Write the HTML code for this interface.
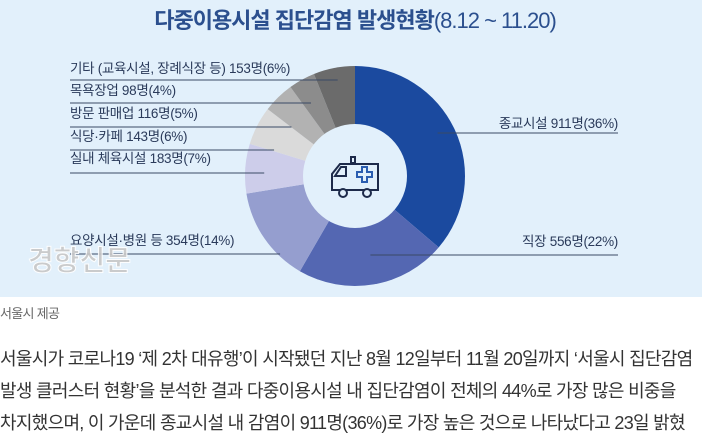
<!DOCTYPE html>
<html><head><meta charset="utf-8"><style>
body{margin:0;width:704px;height:447px;overflow:hidden;background:#fff;font-family:"Liberation Sans","Noto Sans CJK KR",sans-serif;}
#fig{position:absolute;left:0;top:0;width:702px;height:297px;background:#e2f0fb;}
.p{position:absolute;left:0;font-size:18px;color:#333;white-space:nowrap;letter-spacing:-0.7px}
</style></head><body>
<div id="fig">
<svg id="chart" width="702" height="297">
<text x="355" y="28" text-anchor="middle" font-size="22" font-weight="bold" fill="#2b4f8e" letter-spacing="-1">다중이용시설 집단감염 발생현황<tspan font-weight="normal">(8.12 ~ 11.20)</tspan></text>
<g id="slices"></g>
<circle cx="355" cy="176" r="52" fill="#e2f0fb"/>
<g fill="none" stroke="#1d2a4a" stroke-width="2">
<path d="M332 190 V174 L340 164 H378 V190 Z"/><path d="M335 176 L341 167 H346 V176 Z"/>
<path d="M357 172 h5 v-5 h5 v5 h5 v5 h-5 v5 h-5 v-5 h-5 z" stroke="#2a5db0"/>
<rect x="351" y="157" width="4" height="6"/>
<circle cx="343" cy="193" r="4" fill="#e2f0fb"/><circle cx="367" cy="193" r="4" fill="#e2f0fb"/>
</g>
<g id="labels" font-size="13.5" fill="#2a3a5a" letter-spacing="-0.3"></g>
<text x="28" y="270" font-size="28" font-weight="bold" fill="#c8c8c8" stroke="#fff" stroke-width="1" opacity="0.9">경향신문</text>
</svg></div>
<div class="p" style="top:303px;font-size:13px;color:#666">서울시 제공</div>
<div class="p" style="top:345px">서울시가 코로나19 ‘제 2차 대유행’이 시작됐던 지난 8월 12일부터 11월 20일까지 ‘서울시 집단감염</div>
<div class="p" style="top:377px">발생 클러스터 현황’을 분석한 결과 다중이용시설 내 집단감염이 전체의 44%로 가장 많은 비중을</div>
<div class="p" style="top:409px">차지했으며, 이 가운데 종교시설 내 감염이 911명(36%)로 가장 높은 것으로 나타났다고 23일 밝혔</div>
<script>
const categories=["종교시설","직장","요양시설·병원 등","실내 체육시설","식당·카페","방문 판매업","목욕장업","기타 (교육시설, 장례식장 등)"];
const values=[911,556,354,183,143,116,98,153];
const percents=[36,22,14,7,6,5,4,6];
const colors=["#1b4a9f","#5467b2","#959ecf","#cdcdea","#dadada","#b2b2b2","#8c8c8c","#6b6b6b"];
const cx=355,cy=176,R=110,r=52;
const total=values.reduce((a,b)=>a+b,0);
const ns="http://www.w3.org/2000/svg";
const sg=document.getElementById('slices'),lg=document.getElementById('labels');
function pt(a,rad){return [cx+rad*Math.sin(a),cy-rad*Math.cos(a)];}
const layout=[[618,128,133,'end'],[618,246,255,'end'],[70,245,254,'start'],[70,163,173,'start'],[70,141,150,'start'],[70,118,127,'start'],[70,95,103,'start'],[70,73,80,'start']];
let acc=0;
values.forEach((v,i)=>{
 const a0=acc/total*2*Math.PI;acc+=v;const a1=acc/total*2*Math.PI;
 const [x0,y0]=pt(a0,R),[x1,y1]=pt(a1,R);const lf=(a1-a0)>Math.PI?1:0;
 const p=document.createElementNS(ns,'path');
 p.setAttribute('d',`M${cx} ${cy} L${x0} ${y0} A${R} ${R} 0 ${lf} 1 ${x1} ${y1} Z`);
 p.setAttribute('fill',colors[i]);
 
 
 sg.appendChild(p);
 const am=(a0+a1)/2;const [mx]=pt(am,(R+r)/2+10);
 const L=layout[i];
 const ln=document.createElementNS(ns,'line');
 ln.setAttribute('x1',L[0]);ln.setAttribute('x2',mx);
 ln.setAttribute('y1',L[2]);ln.setAttribute('y2',L[2]);
 ln.setAttribute('stroke','#3a4a66');ln.setAttribute('stroke-width','1');
 
 
 lg.appendChild(ln);
 const t=document.createElementNS(ns,'text');
 t.setAttribute('x',L[0]);t.setAttribute('y',L[1]);t.setAttribute('text-anchor',L[3]);
 t.textContent=categories[i]+' '+v+'명('+percents[i]+'%)';
 
 
 lg.appendChild(t);
});
</script>
</body></html>
